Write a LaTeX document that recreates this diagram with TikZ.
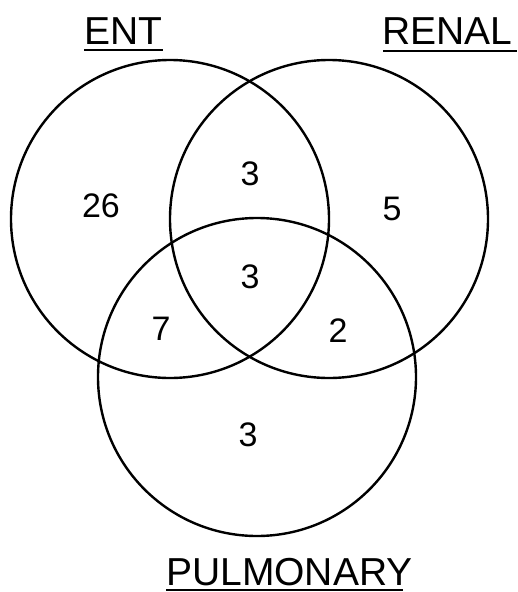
\documentclass[tikz,border=0pt]{standalone}
\usepackage{fontspec}
\setmainfont{Liberation Sans}
\begin{document}
\begin{tikzpicture}[x=1pt,y=-1pt,
  ring/.style={line width=2.4pt,draw=black},
  setlabel/.style={anchor=base west,inner sep=0pt,font=\fontsize{39}{39}\selectfont},
  count/.style={anchor=center,inner sep=0pt,font=\fontsize{34}{34}\selectfont},
  uline/.style={line width=2pt}]
\useasboundingbox (0,0) rectangle (517,592);
\coordinate (cE) at (170,219);
\coordinate (cR) at (329,219);
\coordinate (cP) at (257,377);
\draw[ring] (cE) circle[radius=159];
\draw[ring] (cR) circle[radius=159];
\draw[ring] (cP) circle[radius=159];
\node[setlabel] (ent) at (84,44) {ENT};
\node[setlabel] (renal) at (382,44) {RENAL};
\node[setlabel] (pulm) at (166,585) {PULMONARY};
\coordinate (u1a) at (84,50); \coordinate (u1b) at (163,50);
\coordinate (u2a) at (383,51); \coordinate (u2b) at (517,51);
\coordinate (u3a) at (166,590); \coordinate (u3b) at (403,590);
\draw[uline] (u1a) -- (u1b);
\draw[uline] (u2a) -- (u2b);
\draw[uline] (u3a) -- (u3b);
\node[count] (n26) at (101,206) {26};
\node[count] (n3a) at (250,174) {3};
\node[count] (n5) at (392,209) {5};
\node[count] (n3b) at (250,277) {3};
\node[count] (n7) at (161,329) {7};
\node[count] (n2) at (338,331) {2};
\node[count] (n3c) at (248,435) {3};
\end{tikzpicture}
\end{document}
